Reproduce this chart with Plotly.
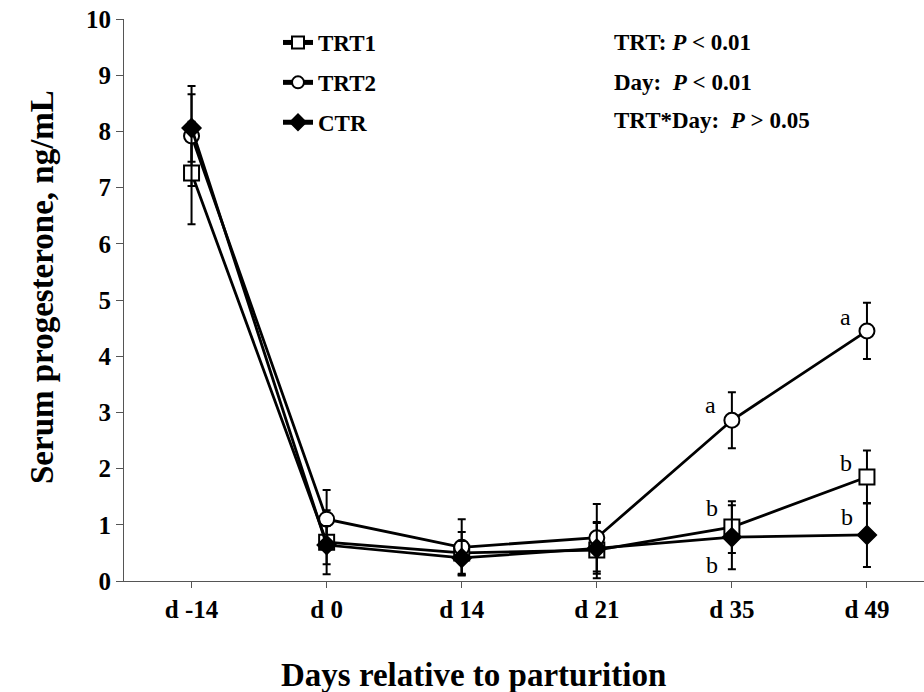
import plotly.graph_objects as go

days = ["d -14", "d 0", "d 14", "d 21", "d 35", "d 49"]
trt1 = [7.26, 0.69, 0.50, 0.55, 0.96, 1.85]
trt1_err = [0.91, 0.57, 0.37, 0.50, 0.46, 0.47]
trt2 = [7.92, 1.10, 0.60, 0.77, 2.86, 4.45]
trt2_err = [0.89, 0.52, 0.50, 0.60, 0.50, 0.50]
ctr = [8.06, 0.64, 0.41, 0.58, 0.78, 0.82]
ctr_err = [0.60, 0.34, 0.30, 0.45, 0.57, 0.57]

# significance letters: (day index, series, letter, xshift px, yshift px)
letters = [
    (4, "TRT2", "a", -21, 15),
    (4, "TRT1", "b", -20, 19),
    (4, "CTR", "b", -20, -28),
    (5, "TRT2", "a", -21, 14),
    (5, "TRT1", "b", -21, 14),
    (5, "CTR", "b", -20, 18),
]
stats = ["TRT: <i>P</i> < 0.01", "Day:  <i>P</i> < 0.01", "TRT*Day:  <i>P</i> > 0.05"]

FONT = "Liberation Serif, Times New Roman, serif"
series = {
    "TRT1": (trt1, trt1_err, "square", "white", 15),
    "TRT2": (trt2, trt2_err, "circle", "white", 15),
    "CTR": (ctr, ctr_err, "diamond", "black", 14),
}

fig = go.Figure()
for name, (vals, errs, sym, fill, size) in series.items():
    fig.add_trace(go.Scatter(
        x=days, y=vals, name=name, mode="lines+markers",
        legendgroup=name,
        line=dict(color="black", width=2.8),
        marker=dict(symbol=sym, size=size, color=fill,
                    line=dict(color="black", width=2)),
        error_y=dict(type="data", array=errs, visible=True,
                     color="black", thickness=2, width=4),
    ))

annotations = []
for di, sname, txt, xs, ys in letters:
    yv = series[sname][0][di]
    annotations.append(dict(
        x=days[di], y=yv, xref="x", yref="y", text=txt, showarrow=False,
        xshift=xs, yshift=ys, font=dict(family=FONT, size=24, color="black")))

for i, s in enumerate(stats):
    annotations.append(dict(
        x=(612 - 124) / 800, y=(581 - [42, 83, 120][i]) / 562,
        xref="paper", yref="paper", xanchor="left", yanchor="middle",
        text="<b>" + s + "</b>", showarrow=False,
        font=dict(family=FONT, size=23, color="black")))

annotations.append(dict(
    x=(473 - 124) / 800, y=-(675 - 581) / 562, xref="paper", yref="paper",
    text="<b>Days relative to parturition</b>", showarrow=False,
    xanchor="center", yanchor="middle",
    font=dict(family=FONT, size=33, color="black")))
annotations.append(dict(
    x=-(124 - 42) / 800, y=(581 - 287) / 562, xref="paper", yref="paper",
    text="<b>Serum progesterone, ng/mL</b>", showarrow=False, textangle=-90,
    xanchor="center", yanchor="middle",
    font=dict(family=FONT, size=33, color="black")))

fig.update_layout(
    width=924, height=692,
    margin=dict(l=124, r=0, t=19, b=111),
    paper_bgcolor="white", plot_bgcolor="white",
    showlegend=True,
    legend=dict(x=(278 - 124) / 800, y=(581 - 21) / 562, xanchor="left", yanchor="top",
                font=dict(family=FONT, size=23, color="black", weight="bold"),
                tracegroupgap=7, bgcolor="rgba(0,0,0,0)", itemsizing="constant"),
    annotations=annotations,
    xaxis=dict(type="category", range=[-0.5, (924 - 124.5) / 135 - 0.5],
               showline=True, linecolor="#555", linewidth=1,
               ticks="outside", ticklen=6, tickcolor="#555",
               showgrid=False, zeroline=False,
               tickfont=dict(family=FONT, size=25, color="black", weight="bold")),
    yaxis=dict(range=[0, 10], dtick=1, showline=True, linecolor="#555", linewidth=1,
               ticks="outside", ticklen=7, tickcolor="#555",
               showgrid=False, zeroline=False,
               tickfont=dict(family=FONT, size=25, color="black", weight="bold")),
)

fig.write_html("out.html")
